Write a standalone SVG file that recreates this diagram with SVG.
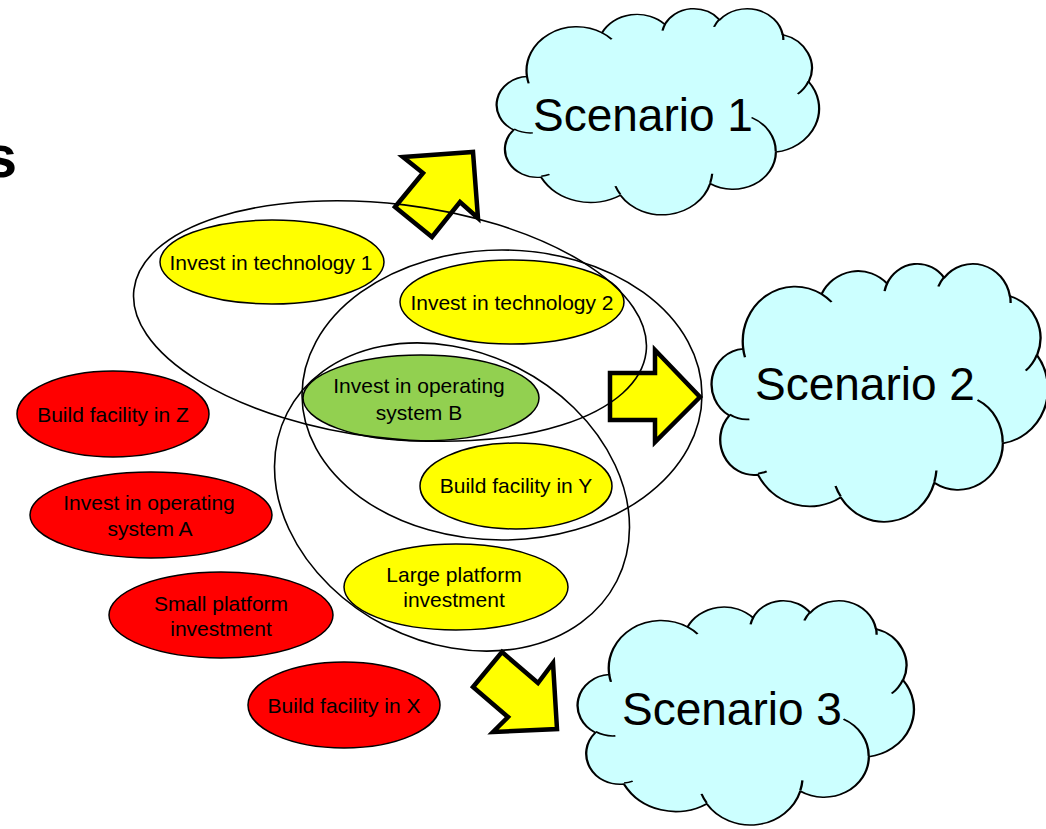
<svg xmlns="http://www.w3.org/2000/svg" width="1046" height="829" viewBox="0 0 1046 829">
<defs>
<style>
.node{stroke:#000;stroke-width:1.5}
.y{fill:#FFFF00}.r{fill:#FF0000}.g{fill:#92D050}
.t{font-family:"Liberation Sans",Arial,sans-serif;font-size:21px;fill:#000;text-anchor:middle}
.sc{font-family:"Liberation Sans",Arial,sans-serif;font-size:46px;fill:#000}
.cloud{fill:#CCFFFF;stroke:#000;stroke-width:3;vector-effect:non-scaling-stroke;stroke-linejoin:round}
.cin{fill:none;stroke:#000;stroke-width:3;vector-effect:non-scaling-stroke}
.arr{fill:#FFFF00;stroke:#000;stroke-width:4.5;stroke-linejoin:miter}
.ring{fill:none;stroke:#000;stroke-width:1.6}
</style>
<path id="cloudOut" d="M39,143.7 A67.53,91.9 0 0 1 140.04,52.02 A53.33,72.67 0 0 1 224.54,34.31 A43.65,59.45 0 0 1 298.31,24.8 A48.57,65.95 0 0 1 383.16,55.74 A53.33,72.73 0 0 1 418.16,154.57 A67.75,92.2 0 0 1 374.02,302.01 A57.85,78.67 0 0 1 285.53,368.11 A67.52,92.15 0 0 1 164.77,392.63 A77.2,105.43 0 0 1 58,354.68 A43.6,59.18 0 0 1 21.09,255.46 A43.45,59.45 0 0 1 39,143.7 Z"/>
<path id="cloudIn" d="M46.93,261.77 A43.45,59.45 0 0 1 21.59,253.8 M69.28,348.99 A43.6,59.18 0 0 1 58.19,352.8 M164.78,390.9 A67.52,92.15 0 0 1 158.1,373.5 M288.27,347.51 A67.52,92.15 0 0 1 285.61,366.61 M341.29,229.54 A57.85,78.67 0 0 1 373.8,300.89 M417.98,153.54 A53.33,72.73 0 0 1 403.51,180.31 M383.24,54.26 A48.57,65.95 0 0 1 384.01,66.9 M290.78,39.52 A48.57,65.95 0 0 1 298.2,23.4 M221.41,47.2 A43.65,59.45 0 0 1 225,33.31 M140,51.92 A67.53,91.9 0 0 1 153.01,65.4 M41.27,157.89 A67.53,91.9 0 0 1 39,143.7"/>
</defs>
<rect width="1046" height="829" fill="#fff"/>
<text x="17" y="177" text-anchor="end" style="font-family:'Liberation Sans',Arial,sans-serif;font-size:60px;font-weight:bold">s</text>

<g id="scenario1">
<g transform="translate(498,8) scale(0.743,0.477)"><use href="#cloudOut" class="cloud"/><use href="#cloudIn" class="cin"/></g>
<text class="sc" x="533" y="131">Scenario 1</text>
</g>
<g id="scenario2">
<g transform="translate(713,263) scale(0.775,0.597)"><use href="#cloudOut" class="cloud"/><use href="#cloudIn" class="cin"/></g>
<text class="sc" x="755" y="400">Scenario 2</text>
</g>
<g id="scenario3">
<g transform="translate(579,600) scale(0.775,0.519)"><use href="#cloudOut" class="cloud"/><use href="#cloudIn" class="cin"/></g>
<text class="sc" x="622" y="725">Scenario 3</text>
</g>

<g id="tech1"><ellipse class="node y" cx="272" cy="262" rx="112" ry="42"/><text class="t" x="271" y="270">Invest in technology 1</text></g>
<g id="tech2"><ellipse class="node y" cx="512" cy="302" rx="112" ry="42"/><text class="t" x="512" y="310">Invest in technology 2</text></g>
<g id="osB"><ellipse class="node g" cx="421" cy="398" rx="118" ry="43"/><text class="t" x="419" y="393">Invest in operating</text><text class="t" x="419" y="420">system B</text></g>
<g id="facY"><ellipse class="node y" cx="516" cy="486" rx="96" ry="43"/><text class="t" x="516" y="493">Build facility in Y</text></g>
<g id="largeP"><ellipse class="node y" cx="456" cy="587" rx="112" ry="43"/><text class="t" x="454" y="582">Large platform</text><text class="t" x="454" y="607">investment</text></g>
<g id="facZ"><ellipse class="node r" cx="113" cy="414" rx="96" ry="43"/><text class="t" x="113" y="422">Build facility in Z</text></g>
<g id="osA"><ellipse class="node r" cx="151" cy="515" rx="121" ry="43"/><text class="t" x="149" y="510">Invest in operating</text><text class="t" x="150" y="536">system A</text></g>
<g id="smallP"><ellipse class="node r" cx="221" cy="615" rx="112" ry="43"/><text class="t" x="221" y="611">Small platform</text><text class="t" x="221" y="636">investment</text></g>
<g id="facX"><ellipse class="node r" cx="344" cy="705" rx="96" ry="43"/><text class="t" x="344" y="713">Build facility in X</text></g>

<g id="connectors">
<polygon class="arr" points="403,157 473,152 478,218 460,202 432,237 395,207 423,173"/>
<polygon class="arr" points="610,373 655,373 655,350 700,397 655,442 655,420 610,420"/>
<polygon class="arr" points="502,652 538,683 553,663 557,729 493,732 508,717 473,687"/>
</g>

<g id="groupings">
<ellipse class="ring" cx="390" cy="321" rx="258" ry="117" transform="rotate(7 390 321)"/>
<ellipse class="ring" cx="502" cy="395" rx="200" ry="145"/>
<ellipse class="ring" cx="452" cy="497" rx="185" ry="145" transform="rotate(27 452 497)"/>
</g>
</svg>
